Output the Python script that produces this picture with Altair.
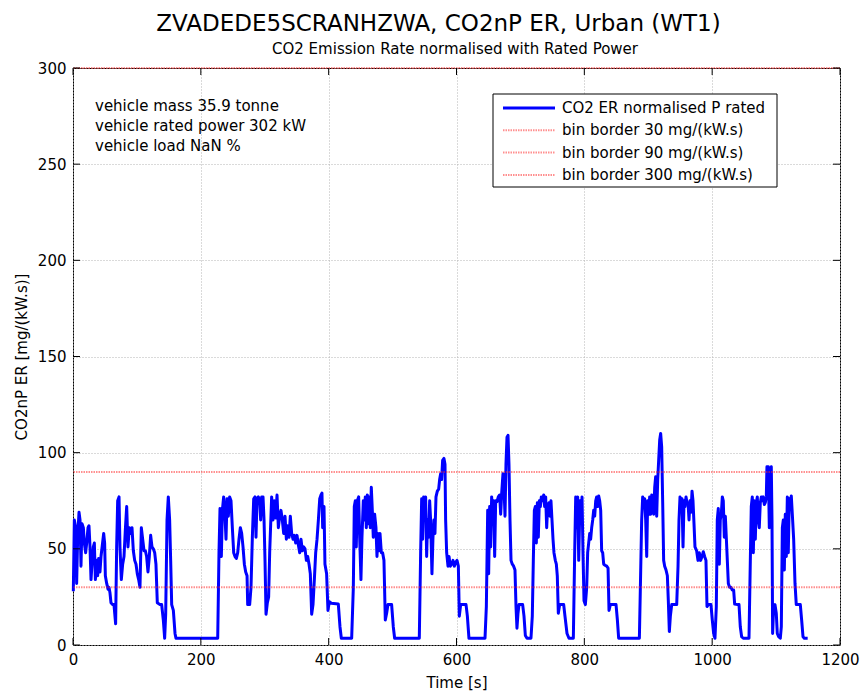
import altair as alt
import pandas as pd

# ---------------- data ----------------
time_s = [
    # cycle block 1 (0 - 161 s)
    0.5, 2.1, 4.2, 5.7, 7.3, 9.4, 11, 12.5, 14.1, 16.2,
    17.7, 19.8, 21.4, 23.5, 25, 26.6, 28.2, 29.7, 31.8, 33.4,
    35, 37, 38.6, 40.1, 42.2, 43.8, 45.9, 48, 49.5, 50.6,
    52.7, 54.8, 56.3, 57.9, 59.4, 62, 64.1, 66.7, 68.3, 69.9,
    72, 73.5, 75.6, 77.7, 79.8, 81.9, 84, 86, 88.1, 90.2,
    92.3, 94.4, 96.5, 98.6, 100.6, 102.7, 104.8, 106.9, 109, 111.1,
    113.2, 115.2, 117.3, 119.4, 121.5, 123.6, 125.7, 127.8, 129.8, 131.9,
    136.1, 138.7, 141.3, 143.4, 145, 147.1, 149.1, 151.2, 152.8, 154.4,
    157, 159.6, 161.1,
    # block 2 (226 - 388 s)
    226.4, 228.4, 230, 232.1, 233.7, 235.7, 237.8, 239.4, 241, 243,
    245.1, 247.2, 249.3, 251.4, 253.5, 255.6, 257.7, 259.7, 261.8, 263.9,
    266, 268.1, 270.2, 272.3, 273.3, 276.4, 278.5, 280.6, 282.7, 284.8,
    286.3, 287.9, 290, 292.1, 293.6, 295.2, 297.3, 298.9, 300.4, 302,
    304.1, 306.1, 307.7, 309.3, 310.8, 312.9, 315, 317.1, 319.2, 321.3,
    323.4, 325.4, 327.5, 329.6, 331.7, 333.8, 335.9, 338, 340, 342.1,
    344.2, 346.3, 348.4, 350.5, 352.6, 354.7, 356.7, 358.8, 360.9, 363,
    365.1, 367.2, 369.3, 371.3, 373.4, 375.5, 377.6, 379.7, 381.8, 383.9,
    386, 388,
    # block 3 (389 - 582 s)
    389.5, 390.6, 392.7, 394.2, 396.8, 398.9, 401, 404.1, 415.1, 417.7,
    419.8, 436, 438.6, 440.1, 441.7, 443.2, 444.8, 446.9, 448.5, 450.5,
    452.1, 454.2, 455.8, 457.3, 458.9, 460.5, 462, 463.6, 465.1, 466.7,
    468.3, 469.8, 471.9, 474, 475.6, 477.1, 478.7, 480.3, 482.4, 484.4,
    486.5, 488.6, 490.7, 492.8, 498.5, 501.1, 503.2, 541.8, 543.9, 545.5,
    547, 548.6, 550.2, 551.7, 553.3, 554.8, 556.4, 558, 559.5, 561.6,
    563.2, 564.7, 566.3, 567.9, 570, 572.1, 573.6, 575.2, 576.7, 578.3,
    580.4, 582,
    # block 4 (583 - 776 s)
    583, 584.6, 586.7, 588.3, 590.3, 592.4, 594.5, 596.6, 598.7, 600.8,
    602.9, 604.4, 606.5, 614.9, 617, 619.5, 644.6, 646.7, 648.8, 650.3,
    651.9, 653.4, 655, 656.6, 658.1, 659.7, 661.3, 663.4, 665.4, 667.5,
    669.1, 670.7, 672.7, 674.3, 675.9, 677.4, 679, 680.6, 682.1, 683.7,
    685.3, 687.3, 689.4, 691.5, 693.1, 694.6, 696.2, 697.8, 703.5, 705.6,
    707.7, 710.3, 716.5, 718.6, 720.2, 721.8, 723.3, 724.9, 726.5, 728,
    729.6, 731.2, 732.7, 734.3, 736.4, 737.9, 739.5, 741.1, 742.6, 744.7,
    746.3, 747.8, 749.4, 751, 752.5, 754.6, 756.2, 757.7, 759.3, 761.4,
    767.7, 769.7, 772.9, 776,
    # block 5 (782 - 972 s)
    782.8, 784.9, 786.5, 788, 789.6, 791.2, 793.2, 794.8, 796.4, 797.9,
    799.5, 801.6, 803.7, 805.2, 806.8, 808.4, 809.9, 811.5, 813.1, 814.6,
    816.2, 817.8, 819.3, 820.9, 822.5, 824, 825.6, 827.1, 828.7, 830.3,
    832.4, 835, 837.1, 838.6, 840.7, 849.6, 851.7, 853.7, 886.1, 888.2,
    889.7, 891.3, 892.9, 894.4, 896, 897.6, 899.1, 900.7, 902.2, 903.8,
    905.4, 906.9, 908.5, 910.1, 911.6, 913.2, 914.8, 916.3, 917.9, 919.4,
    921, 922.6, 924.1, 925.7, 927.8, 929.9, 931.4, 933, 934.6, 936.7,
    944.5, 946.6, 948.1, 949.7, 951.3, 952.8, 954.4, 956, 957.5, 959.1,
    960.6, 962.2, 963.8, 965.3, 966.9, 968.5, 970, 971.6,
    # block 6 (973 - 1149 s)
    973.1, 975.7, 977.8, 979.9, 982, 984.1, 986.1, 988.2, 990.3, 991.9,
    994, 998.1, 1000.2, 1002.3, 1004.4, 1006.5, 1008, 1009.6, 1011.2, 1012.7,
    1014.3, 1015.9, 1017.4, 1019, 1020.6, 1022.1, 1023.7, 1025.3, 1027.3, 1029.4,
    1031.5, 1033.6, 1035.2, 1039.9, 1042, 1044, 1046.1, 1048.7, 1057.6, 1059.7,
    1061.2, 1062.8, 1064.4, 1065.9, 1067.5, 1069.1, 1070.6, 1072.2, 1073.7, 1075.3,
    1076.9, 1078.4, 1080, 1081.6, 1083.1, 1084.7, 1085.7, 1087.8, 1089.4, 1091,
    1092.5, 1093.6, 1094.6, 1096.2, 1098.3, 1100.3, 1101.9, 1104, 1106.6, 1108.2,
    1109.8, 1111.3, 1112.9, 1114.4, 1116, 1117.6, 1119.1, 1120.7, 1122.3, 1123.8,
    1125.4, 1127.5, 1129.6, 1131.6, 1137.9, 1140, 1142.1, 1144.2, 1149.4,
]

co2np_er = [
    # block 1
    28, 65, 61, 32, 56, 69, 65, 41, 63, 61,
    53, 48, 53, 61, 62, 51, 34, 42, 51, 53,
    34, 44, 36, 45, 38, 46, 52, 58, 53, 36,
    32, 29, 30, 27, 22, 21, 21, 11, 51, 75,
    77, 51, 34, 42, 46, 60, 72, 51, 61, 58,
    61, 49, 44, 42, 37, 34, 30, 61, 55, 49,
    49, 46, 38, 46, 57, 51, 50, 48, 42, 22,
    21, 21, 13, 3.5, 16, 65, 77, 65, 44, 21,
    18, 6, 3.5,
    # block 2
    3.5, 48, 71, 46, 70, 77, 67, 55, 76, 67,
    77, 75, 61, 48, 46, 45, 48, 55, 61, 58,
    51, 42, 38, 36, 21, 21, 30, 56, 76, 77,
    56, 76, 77, 75, 65, 77, 77, 65, 44, 16,
    22, 25, 48, 63, 77, 65, 75, 66, 78, 61,
    67, 70, 65, 58, 67, 55, 62, 56, 67, 58,
    55, 57, 53, 57, 52, 48, 55, 49, 51, 50,
    44, 46, 42, 37, 16, 21, 34, 48, 55, 65,
    76, 78,
    # block 3
    79, 61, 72, 42, 37, 18, 22.5, 21.7, 21.3, 9.5,
    3.5, 3.5, 30, 72, 75, 51, 75, 77, 56, 34,
    56, 75, 65, 77, 61, 78, 63, 77, 61, 82,
    70, 56, 68, 61, 46, 58, 49, 58, 48, 48,
    44, 13, 16.5, 21, 21, 9.5, 3.5, 3.5, 48, 76,
    55, 77, 72, 77, 46, 65, 56, 75, 65, 37,
    56, 65, 58, 77, 80, 81, 86, 89, 86, 96,
    97, 94,
    # block 4
    65, 48, 41, 46, 41, 42, 44, 41, 43, 44,
    41, 15, 21, 21, 15, 3.5, 3.5, 20, 70, 37,
    72, 51, 77, 67, 75, 46, 75, 74.5, 77, 78,
    68, 79, 89, 82, 67, 94, 108, 109, 94, 65,
    44, 42, 41, 39, 20, 8.7, 16.5, 21, 21, 15,
    5, 3.5, 3.5, 15, 44, 70, 72, 53, 74, 56,
    75, 72, 77, 75, 78, 72, 77, 61, 72, 74,
    67, 75, 65, 55, 48, 44, 42, 36, 16.5, 21,
    21, 15, 6, 3.5,
    # block 5
    3.5, 48, 77, 61, 77, 44, 75, 65, 77, 48,
    23, 21, 30, 48, 53, 58, 55, 61, 65, 70,
    67, 75, 77, 72, 77.5, 75, 70, 49, 48, 42,
    41.5, 41, 40, 18, 21, 21, 13, 3.5, 3.5, 39,
    65, 77, 72, 76, 65, 46, 75, 68, 77, 68,
    78, 77, 68, 82, 87.5, 67, 86, 96, 106.6, 110,
    103, 74, 44, 41, 39, 36, 23, 7, 15, 21,
    21, 41, 65, 77, 74, 76, 51, 75, 72, 77,
    74, 74, 65, 75, 69, 80, 75, 63,
    # block 6
    51, 49, 44, 48, 44, 46, 48.5, 46, 44, 20,
    21, 21, 13, 6, 3.5, 20, 65, 71, 42, 65,
    68, 77, 75, 56, 67, 56, 44, 32, 30, 30,
    28.6, 28.6, 21.3, 21, 21, 9.5, 4.3, 3.5, 3.5, 44,
    72, 77, 48, 75, 55, 74, 77, 65, 61, 74,
    77, 75, 77, 73, 74, 77, 92.7, 92.7, 61, 91,
    92.7, 65, 6, 20, 21, 16.5, 6, 4.3, 3.5, 9.5,
    61, 65, 39, 68, 46, 77, 48, 76, 75, 77.5,
    68, 55, 32, 21, 21, 13, 4.3, 3.5, 3.5,
]

bin_borders = [30, 90, 300]
x_ticks = [0, 200, 400, 600, 800, 1000, 1200]
y_ticks = [0, 50, 100, 150, 200, 250, 300]
legend_labels = [
    "CO2 ER normalised P rated",
    "bin border 30 mg/(kW.s)",
    "bin border 90 mg/(kW.s)",
    "bin border 300 mg/(kW.s)",
]
info_lines = [
    "vehicle mass 35.9 tonne",
    "vehicle rated power 302 kW",
    "vehicle load NaN %",
]
main_title = "ZVADEDE5SCRANHZWA, CO2nP ER, Urban (WT1)"
sub_title = "CO2 Emission Rate normalised with Rated Power"

assert len(time_s) == len(co2np_er), (len(time_s), len(co2np_er))

# ---------------- styling ----------------
FONT = "DejaVu Sans"
W, H = 767, 577
BLUE = "#0000ff"
RED = "#ff2020"
RED_OPACITY = 0.5
RED_DASH = [1.5, 1]
TICK = 7

xs = alt.Scale(domain=[0, 1200], nice=False, zero=False)
ys = alt.Scale(domain=[0, 300], nice=False)
x_axis = alt.Axis(values=x_ticks, title="Time [s]", labelPadding=7, titlePadding=8,
                  format="d", labelFlush=False)
y_axis = alt.Axis(values=y_ticks, title="CO2nP ER [mg/(kW.s)]", labelPadding=7,
                  titlePadding=8, format="d", labelFlush=False)

df = pd.DataFrame({"time": time_s, "er": co2np_er})
one = pd.DataFrame({"k": [0]})

line = alt.Chart(df).mark_line(
    color=BLUE, strokeWidth=3, strokeJoin="round"
).encode(
    x=alt.X("time:Q", scale=xs, axis=x_axis),
    y=alt.Y("er:Q", scale=ys, axis=y_axis),
)

borders = alt.Chart(pd.DataFrame({"border": bin_borders})).mark_rule(
    color=RED, strokeWidth=2, strokeDash=RED_DASH, opacity=RED_OPACITY
).encode(y=alt.Y("border:Q", scale=ys, axis=y_axis))

xt = pd.DataFrame({"tick": x_ticks})
yt = pd.DataFrame({"tick": y_ticks})
tick_layers = [
    alt.Chart(xt).mark_rule(color="black").encode(
        x=alt.X("tick:Q", scale=xs, axis=x_axis), y=alt.value(H), y2=alt.value(H - TICK)),
    alt.Chart(xt).mark_rule(color="black").encode(
        x=alt.X("tick:Q", scale=xs, axis=x_axis), y=alt.value(0), y2=alt.value(TICK)),
    alt.Chart(yt).mark_rule(color="black").encode(
        y=alt.Y("tick:Q", scale=ys, axis=y_axis), x=alt.value(0), x2=alt.value(TICK)),
    alt.Chart(yt).mark_rule(color="black").encode(
        y=alt.Y("tick:Q", scale=ys, axis=y_axis), x=alt.value(W), x2=alt.value(W - TICK)),
]

# legend box (drawn by hand, MATLAB style)
LX0, LX1, LY0, LY1 = 420, 704, 26, 119
ROW0, ROWSTEP = 40, 22.3
legend_layers = [
    alt.Chart(one).mark_rect(fill="white", stroke="black", strokeWidth=1).encode(
        x=alt.value(LX0), x2=alt.value(LX1), y=alt.value(LY0), y2=alt.value(LY1))
]
for i, lab in enumerate(legend_labels):
    yy = ROW0 + ROWSTEP * i
    if i == 0:
        sym = alt.Chart(one).mark_rule(color=BLUE, strokeWidth=3)
    else:
        sym = alt.Chart(one).mark_rule(color=RED, strokeWidth=2, strokeDash=RED_DASH,
                                       opacity=RED_OPACITY)
    legend_layers.append(sym.encode(x=alt.value(LX0 + 10), x2=alt.value(LX0 + 62), y=alt.value(yy)))
    legend_layers.append(
        alt.Chart(one).mark_text(align="left", baseline="middle", font=FONT, fontSize=15,
                                 color="black").encode(
            x=alt.value(LX0 + 69), y=alt.value(yy), text=alt.value(lab)))

info_layers = []
for i, txt in enumerate(info_lines):
    info_layers.append(
        alt.Chart(one).mark_text(align="left", baseline="middle", font=FONT, fontSize=15,
                                 color="black").encode(
            x=alt.value(22), y=alt.value(38 + 20 * i), text=alt.value(txt)))

subtitle = alt.Chart(one).mark_text(align="center", baseline="middle", font=FONT,
                                    fontSize=15, color="black").encode(
    x=alt.value(382), y=alt.value(-19), text=alt.value(sub_title))

chart = alt.layer(
    line, borders, *tick_layers, *legend_layers, *info_layers, subtitle
).properties(
    width=W, height=H,
    title=alt.TitleParams(text=main_title, font=FONT, fontSize=23, fontWeight="normal",
                          color="black", anchor="middle", dx=-18, offset=6),
    autosize=alt.AutoSizeParams(type="none"),
    padding={"left": 65, "top": 60, "right": 20, "bottom": 50},
    background="white",
).configure_view(
    stroke="black", strokeWidth=1
).configure_axis(
    grid=True, gridColor="#b4b4b4", gridDash=[1, 2], gridWidth=1,
    domain=False, ticks=False,
    labelFont=FONT, labelFontSize=15, labelColor="black",
    titleFont=FONT, titleFontSize=15, titleFontWeight="normal", titleColor="black",
)

chart.save("out.html", embed_options={"renderer": "svg", "actions": False})
